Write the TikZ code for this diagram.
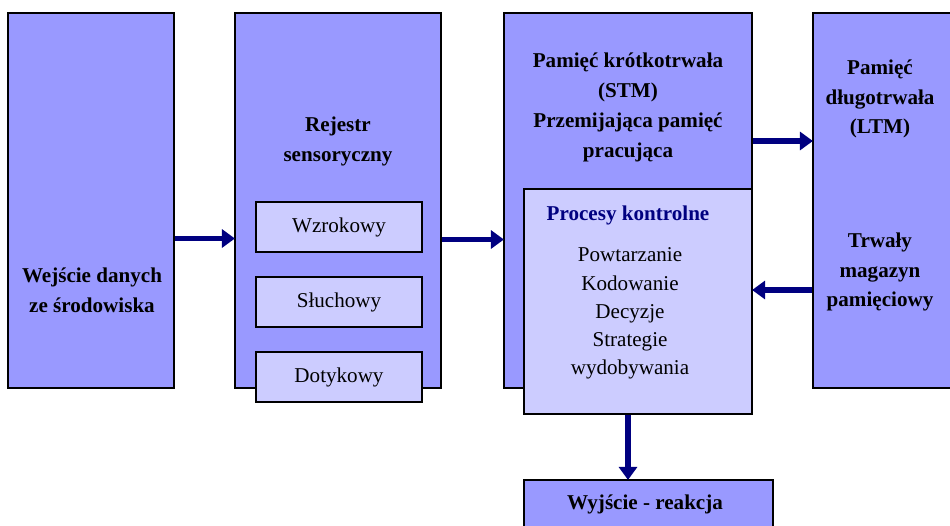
\documentclass[tikz,border=0pt]{standalone}
\usepackage{fontspec}
\setmainfont{Liberation Serif}
\usepackage{xcolor}
\usepackage{tikz}
\usetikzlibrary{positioning,arrows.meta,calc}

\definecolor{boxblue}{HTML}{9999FF}
\definecolor{subblue}{HTML}{CCCCFF}
\definecolor{navy}{HTML}{000080}

\begin{document}
\begin{tikzpicture}[
  >={Triangle[length=2.6mm,width=3.6mm]},
  block/.style={draw=black, line width=1.1pt, fill=boxblue, inner sep=0pt},
  sub/.style={draw=black, line width=1.1pt, fill=subblue, inner sep=0pt},
  head/.style={align=center, font=\bfseries\fontsize{12}{17}\selectfont},
  body/.style={align=center, font=\fontsize{12}{16}\selectfont},
  arr/.style={->, draw=navy, line width=3pt, shorten >=-0.5pt},
]
\useasboundingbox (0,0) rectangle (19,-10.5);

% boxes
\node[block, minimum width=3.32cm, minimum height=7.5cm] (input) at (1.82,-4.01) {};
\node[block, minimum width=4.12cm, minimum height=7.5cm] (reg)   at (6.76,-4.01) {};
\node[block, minimum width=4.96cm, minimum height=7.5cm] (stm)   at (12.56,-4.01) {};
\node[block, minimum width=2.76cm, minimum height=7.5cm] (ltm)   at (17.64,-4.01) {};
\node[sub, minimum width=4.56cm, minimum height=4.5cm]   (ctrl)  at (12.76,-6.03) {};
\node[block, minimum width=4.98cm, minimum height=1.1cm] (out)   at (12.97,-10.15) {};

\node[sub, minimum width=3.32cm, minimum height=1.0cm] (wzrok) at (6.78,-4.54) {};
\node[sub, minimum width=3.32cm, minimum height=1.0cm] (sluch) at (6.78,-6.04) {};
\node[sub, minimum width=3.32cm, minimum height=1.0cm] (dotyk) at (6.78,-7.54) {};

% texts
\node[head] (inputT) at (1.84,-5.8) {Wejście danych\\ze środowiska};
\node[head] (regT)   at (6.76,-2.83) {Rejestr\\sensoryczny};
\node[head] (stmT)   at (12.56,-2.15) {Pamięć krótkotrwała\\(STM)\\Przemijająca pamięć\\pracująca};
\node[head] (ltmT)   at (17.6,-1.98) {Pamięć\\długotrwała\\(LTM)};
\node[head] (ltmT2)  at (17.6,-5.44) {Trwały\\magazyn\\pamięciowy};
\node[head, text=navy] (ctrlT) at (12.56,-4.3) {Procesy kontrolne};
\node[body] (ctrlB)  at (12.6,-6.27) {Powtarzanie\\Kodowanie\\Decyzje\\Strategie\\wydobywania};
\node[head] (outT)   at (12.9,-10.08) {Wyjście - reakcja};
\node[body] at (wzrok) {Wzrokowy};
\node[body] at (sluch) {Słuchowy};
\node[body] at (dotyk) {Dotykowy};

% arrows
\draw[arr] ([yshift=-0.76cm]input.east) -- ([yshift=-0.76cm]reg.west);
\draw[arr] ([yshift=-0.78cm]reg.east) -- ([yshift=-0.78cm]stm.west);
\draw[arr] ([yshift=1.19cm]stm.east) -- ([yshift=1.19cm]ltm.west);
\draw[arr] ([yshift=0.23cm]ctrl.east -| ltm.west) -- ([yshift=0.23cm]ctrl.east);
\draw[arr] ([xshift=-0.2cm]ctrl.south) -- ([xshift=-0.2cm]ctrl.south |- out.north);
\end{tikzpicture}
\end{document}
